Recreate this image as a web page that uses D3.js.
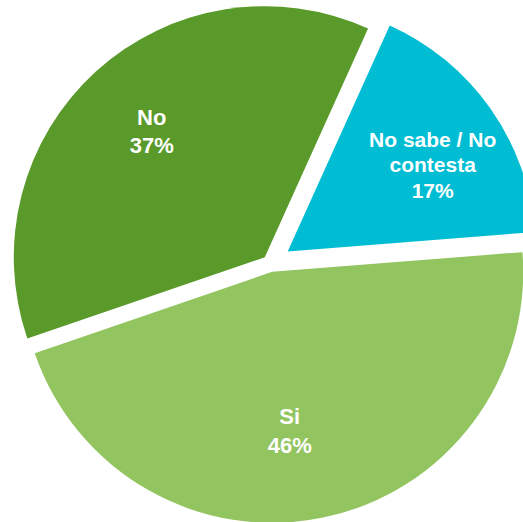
<!DOCTYPE html>
<html>
<head>
<meta charset="utf-8">
<script src="https://cdn.jsdelivr.net/npm/d3@7"></script>
<style>
  html, body { margin: 0; padding: 0; background: #ffffff; }
  svg { display: block; }
</style>
</head>
<body>
<svg id="chart" width="523" height="522"></svg>
<script>
// Data
const categories = ["No sabe / No contesta", "Si", "No"];
const values = [17, 46, 37];
const labelLines = [["No sabe / No", "contesta", "17%"], ["Si", "46%"], ["No", "37%"]];

// Styles
const colors = ["#00BDD3", "#92C460", "#599A2A"];
const explode = [21, 8.5, 8.5];
const radii = [248, 251, 251];
const fontSizes = [21, 22, 22];
const lineHeights = [25.5, 28.5, 28.5];
const labelNudge = [[10, 8], [-16, -3], [-2, -4]];

const width = 523, height = 522;
const cx = 270.5, cy = 263.5, labelR = 165;
const startDeg = 24.3;

const svg = d3.select("#chart");
const g = svg.append("g").attr("transform", `translate(${cx},${cy})`);

const pie = d3.pie()
  .sort(null)
  .value(d => d.value)
  .startAngle(startDeg * Math.PI / 180)
  .endAngle(startDeg * Math.PI / 180 + 2 * Math.PI);

const data = categories.map((c, i) => ({ name: c, value: values[i], i }));
const arcs = pie(data);

const arc = d3.arc().innerRadius(0).outerRadius(d => radii[d.data.i]);

const slices = g.selectAll("g.slice")
  .data(arcs)
  .enter().append("g")
  .attr("class", "slice")
  .attr("transform", d => {
    const a = (d.startAngle + d.endAngle) / 2;
    const e = explode[d.data.i];
    return `translate(${e * Math.sin(a)},${-e * Math.cos(a)})`;
  });

slices.append("path")
  .attr("d", arc)
  .attr("fill", d => colors[d.data.i]);

slices.each(function(d) {
  const i = d.data.i;
  const a = (d.startAngle + d.endAngle) / 2;
  const x = labelR * Math.sin(a) + labelNudge[i][0];
  const y = -labelR * Math.cos(a) + labelNudge[i][1];
  const lines = labelLines[i];
  const fs = fontSizes[i], lh = lineHeights[i];
  const t = d3.select(this).append("text")
    .attr("text-anchor", "middle")
    .attr("font-family", "'Liberation Sans', Arial, sans-serif")
    .attr("font-weight", "bold")
    .attr("font-size", fs)
    .attr("fill", "#ffffff");
  lines.forEach((ln, k) => {
    const ly = y - (lines.length - 1) * lh / 2 + k * lh + 0.36 * fs;
    t.append("tspan").attr("x", x).attr("y", ly).text(ln);
  });
});
</script>
</body>
</html>
